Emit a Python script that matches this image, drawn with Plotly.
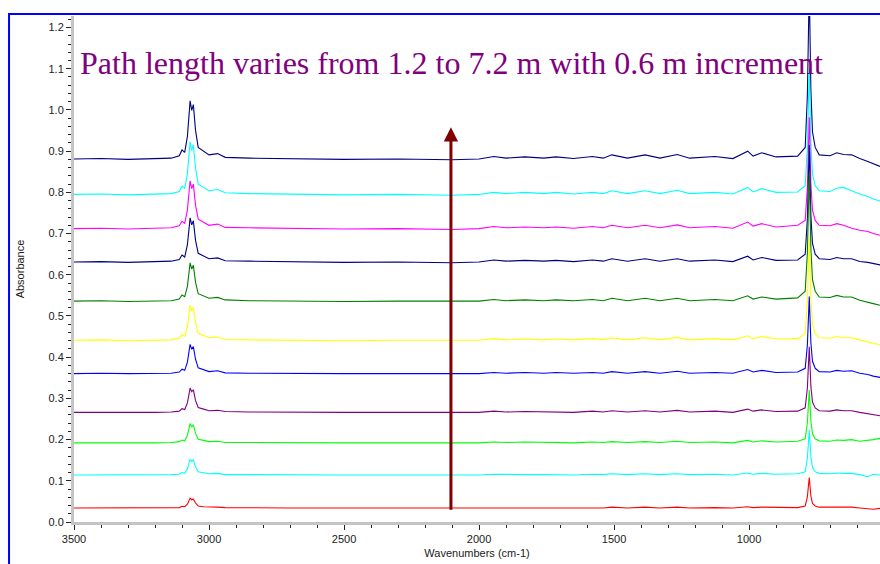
import plotly.graph_objects as go

# Wavenumber grid (cm-1), descending
wavenumbers = [
    3500, 3400, 3300, 3200, 3140, 3110, 3100, 3090, 3080, 3070,
    3064, 3058, 3050, 3040, 3020, 3000, 2968, 2940, 2850, 2700,
    2500, 2300, 2100, 2000, 1945, 1900, 1830, 1760, 1715, 1650,
    1580, 1540, 1508, 1450, 1385, 1330, 1266, 1220, 1126, 1060,
    1005, 985, 953, 900, 820, 792, 784, 777, 771, 765,
    755, 740, 700, 675, 650, 620, 590, 560, 540, 515,
]

# Absorbance spectra, one list per optical path length
abs_7_2 = [
    0.881, 0.882, 0.880, 0.882, 0.883, 0.889, 0.903, 0.897, 0.936, 1.022,
    0.999, 1.013, 0.951, 0.909, 0.899, 0.891, 0.894, 0.885, 0.883, 0.881,
    0.880, 0.881, 0.879, 0.881, 0.887, 0.883, 0.886, 0.883, 0.886, 0.882,
    0.887, 0.883, 0.891, 0.883, 0.891, 0.883, 0.892, 0.883, 0.887, 0.882,
    0.900, 0.888, 0.896, 0.886, 0.888, 0.909, 1.035, 1.301, 1.048, 0.947,
    0.909, 0.891, 0.889, 0.896, 0.892, 0.891, 0.882, 0.875, 0.869, 0.863,
]
abs_6_6 = [
    0.795, 0.796, 0.794, 0.796, 0.797, 0.802, 0.815, 0.810, 0.845, 0.923,
    0.902, 0.915, 0.859, 0.820, 0.811, 0.804, 0.807, 0.799, 0.797, 0.795,
    0.794, 0.795, 0.793, 0.795, 0.800, 0.797, 0.800, 0.797, 0.800, 0.796,
    0.800, 0.797, 0.804, 0.797, 0.804, 0.797, 0.805, 0.797, 0.800, 0.796,
    0.812, 0.801, 0.809, 0.800, 0.801, 0.816, 0.908, 1.100, 0.917, 0.844,
    0.816, 0.804, 0.802, 0.810, 0.812, 0.804, 0.796, 0.790, 0.784, 0.779,
]
abs_6_0 = [
    0.712, 0.713, 0.711, 0.713, 0.714, 0.719, 0.730, 0.725, 0.757, 0.828,
    0.809, 0.820, 0.769, 0.735, 0.727, 0.720, 0.723, 0.715, 0.714, 0.712,
    0.711, 0.712, 0.710, 0.712, 0.717, 0.714, 0.716, 0.714, 0.716, 0.713,
    0.717, 0.714, 0.720, 0.714, 0.720, 0.714, 0.721, 0.714, 0.717, 0.713,
    0.728, 0.718, 0.724, 0.716, 0.720, 0.732, 0.813, 0.982, 0.821, 0.756,
    0.732, 0.720, 0.719, 0.724, 0.720, 0.713, 0.708, 0.705, 0.700, 0.696,
]
abs_5_4 = [
    0.631, 0.632, 0.630, 0.632, 0.633, 0.637, 0.648, 0.643, 0.673, 0.738,
    0.721, 0.731, 0.684, 0.652, 0.645, 0.639, 0.641, 0.634, 0.633, 0.631,
    0.630, 0.631, 0.629, 0.631, 0.636, 0.633, 0.635, 0.633, 0.635, 0.632,
    0.636, 0.633, 0.639, 0.633, 0.639, 0.633, 0.639, 0.633, 0.636, 0.632,
    0.645, 0.636, 0.642, 0.635, 0.636, 0.650, 0.735, 0.915, 0.744, 0.676,
    0.650, 0.639, 0.637, 0.642, 0.639, 0.639, 0.632, 0.630, 0.627, 0.624,
]
abs_4_8 = [
    0.536, 0.537, 0.535, 0.537, 0.537, 0.541, 0.551, 0.547, 0.572, 0.629,
    0.614, 0.623, 0.582, 0.554, 0.548, 0.543, 0.545, 0.539, 0.537, 0.536,
    0.535, 0.536, 0.535, 0.536, 0.540, 0.537, 0.539, 0.537, 0.539, 0.537,
    0.540, 0.537, 0.543, 0.537, 0.543, 0.537, 0.543, 0.537, 0.540, 0.537,
    0.549, 0.541, 0.546, 0.541, 0.544, 0.560, 0.653, 0.848, 0.663, 0.588,
    0.560, 0.546, 0.545, 0.550, 0.546, 0.546, 0.538, 0.534, 0.530, 0.526,
]
abs_4_2 = [
    0.441, 0.442, 0.440, 0.442, 0.442, 0.446, 0.454, 0.451, 0.474, 0.526,
    0.512, 0.520, 0.483, 0.458, 0.452, 0.447, 0.449, 0.443, 0.442, 0.441,
    0.440, 0.441, 0.440, 0.441, 0.445, 0.442, 0.444, 0.442, 0.444, 0.442,
    0.445, 0.442, 0.447, 0.442, 0.447, 0.442, 0.448, 0.442, 0.445, 0.442,
    0.452, 0.445, 0.450, 0.444, 0.445, 0.457, 0.532, 0.690, 0.540, 0.480,
    0.457, 0.447, 0.446, 0.450, 0.447, 0.447, 0.442, 0.437, 0.434, 0.430,
]
abs_3_6 = [
    0.360, 0.361, 0.360, 0.361, 0.361, 0.364, 0.371, 0.368, 0.388, 0.431,
    0.419, 0.426, 0.395, 0.374, 0.369, 0.365, 0.367, 0.362, 0.361, 0.360,
    0.360, 0.360, 0.359, 0.360, 0.363, 0.361, 0.363, 0.361, 0.363, 0.361,
    0.363, 0.361, 0.365, 0.361, 0.365, 0.361, 0.366, 0.361, 0.363, 0.361,
    0.370, 0.364, 0.368, 0.363, 0.364, 0.373, 0.429, 0.547, 0.435, 0.390,
    0.373, 0.365, 0.364, 0.368, 0.366, 0.367, 0.361, 0.358, 0.354, 0.351,
]
abs_3_0 = [
    0.266, 0.266, 0.265, 0.266, 0.267, 0.269, 0.275, 0.273, 0.289, 0.325,
    0.316, 0.321, 0.295, 0.278, 0.274, 0.270, 0.271, 0.268, 0.267, 0.266,
    0.266, 0.266, 0.265, 0.266, 0.269, 0.267, 0.268, 0.267, 0.268, 0.266,
    0.269, 0.267, 0.270, 0.267, 0.270, 0.267, 0.271, 0.267, 0.269, 0.266,
    0.274, 0.269, 0.272, 0.268, 0.269, 0.277, 0.325, 0.425, 0.329, 0.291,
    0.277, 0.270, 0.269, 0.272, 0.270, 0.270, 0.266, 0.263, 0.261, 0.258,
]
abs_2_4 = [
    0.192, 0.192, 0.191, 0.192, 0.193, 0.195, 0.199, 0.197, 0.210, 0.239,
    0.231, 0.236, 0.215, 0.201, 0.198, 0.195, 0.196, 0.193, 0.193, 0.192,
    0.192, 0.192, 0.191, 0.192, 0.194, 0.193, 0.194, 0.193, 0.194, 0.192,
    0.194, 0.193, 0.195, 0.193, 0.195, 0.193, 0.196, 0.193, 0.194, 0.192,
    0.198, 0.194, 0.197, 0.194, 0.196, 0.202, 0.241, 0.320, 0.245, 0.214,
    0.202, 0.197, 0.196, 0.199, 0.198, 0.200, 0.196, 0.198, 0.200, 0.203,
]
abs_1_8 = [
    0.114, 0.114, 0.114, 0.114, 0.115, 0.116, 0.120, 0.118, 0.129, 0.153,
    0.147, 0.151, 0.134, 0.122, 0.119, 0.117, 0.118, 0.115, 0.115, 0.114,
    0.114, 0.114, 0.113, 0.114, 0.116, 0.115, 0.115, 0.115, 0.115, 0.114,
    0.116, 0.115, 0.117, 0.115, 0.117, 0.115, 0.117, 0.115, 0.116, 0.114,
    0.119, 0.116, 0.118, 0.116, 0.117, 0.122, 0.155, 0.223, 0.158, 0.132,
    0.122, 0.118, 0.117, 0.119, 0.118, 0.118, 0.115, 0.110, 0.116, 0.114,
]
abs_1_2 = [
    0.034, 0.034, 0.034, 0.034, 0.034, 0.035, 0.038, 0.037, 0.043, 0.058,
    0.054, 0.056, 0.046, 0.039, 0.037, 0.036, 0.036, 0.035, 0.034, 0.034,
    0.034, 0.034, 0.034, 0.034, 0.035, 0.034, 0.035, 0.034, 0.035, 0.034,
    0.035, 0.034, 0.036, 0.034, 0.036, 0.034, 0.036, 0.034, 0.035, 0.034,
    0.037, 0.035, 0.036, 0.035, 0.035, 0.039, 0.061, 0.108, 0.063, 0.045,
    0.039, 0.036, 0.036, 0.037, 0.036, 0.036, 0.034, 0.033, 0.031, 0.033,
]

path_labels = ["7.2 m", "6.6 m", "6.0 m", "5.4 m", "4.8 m", "4.2 m",
               "3.6 m", "3.0 m", "2.4 m", "1.8 m", "1.2 m"]
spectra = [abs_7_2, abs_6_6, abs_6_0, abs_5_4, abs_4_8, abs_4_2,
           abs_3_6, abs_3_0, abs_2_4, abs_1_8, abs_1_2]
line_colors = ["#000080", "#00ffff", "#ff00ff", "#000080", "#008000", "#ffff00",
               "#0000ff", "#800080", "#00ff00", "#00ffff", "#ff0000"]

x_ticks = [3500, 3000, 2500, 2000, 1500, 1000]
y_ticks = [0.0, 0.1, 0.2, 0.3, 0.4, 0.5, 0.6, 0.7, 0.8, 0.9, 1.0, 1.1, 1.2]

# Arrow marking increasing path length
arrow_x = 2104
arrow_y_from = 0.026
arrow_y_to = 0.958

fig = go.Figure()
for label, values, color in zip(path_labels, spectra, line_colors):
    fig.add_trace(go.Scatter(
        x=wavenumbers, y=values, mode="lines", name=label,
        line=dict(color=color, width=1.1), showlegend=False,
    ))

axis_font = dict(family="Liberation Sans, Arial, sans-serif", size=11, color="#1a1a1a")

fig.update_layout(
    width=880, height=564,
    margin=dict(l=74, r=0, t=16, b=42),
    paper_bgcolor="white", plot_bgcolor="white",
    template="none",
    font=axis_font,
    xaxis=dict(
        range=[3500, 515], autorange=False, automargin=False,
        tickvals=x_ticks, ticktext=[str(v) for v in x_ticks],
        ticks="outside", ticklen=5, tickwidth=1, tickcolor="#222",
        showline=True, linecolor="#c4c4c4", linewidth=3,
        showgrid=False, zeroline=False,
        minor=dict(dtick=100, ticks="outside", ticklen=3, tickcolor="#222", tickwidth=1, showgrid=False),
        tickfont=axis_font,
        title=dict(text="Wavenumbers (cm-1)", font=axis_font, standoff=6),
    ),
    yaxis=dict(
        range=[0, 1.228], autorange=False, automargin=False,
        tickvals=y_ticks, ticktext=[f"{v:.1f}" for v in y_ticks],
        ticks="outside", ticklen=5, tickwidth=1, tickcolor="#222",
        showline=True, linecolor="#c4c4c4", linewidth=3,
        showgrid=False, zeroline=False,
        minor=dict(dtick=0.02, ticks="outside", ticklen=3, tickcolor="#222", tickwidth=1, showgrid=False),
        tickfont=axis_font,
        title=dict(text="Absorbance", font=axis_font, standoff=22),
    ),
    shapes=[dict(
        type="rect", xref="paper", yref="paper",
        x0=-0.0806, x1=1.05, y0=-0.3, y1=1.004,
        line=dict(color="#0000ff", width=2), fillcolor="rgba(0,0,0,0)", layer="above",
    )],
    annotations=[
        dict(
            x=arrow_x, y=arrow_y_to, ax=arrow_x, ay=arrow_y_from,
            xref="x", yref="y", axref="x", ayref="y",
            showarrow=True, arrowhead=2, arrowsize=0.95, arrowwidth=3,
            arrowcolor="#800000", text="",
        ),
        dict(
            text="Path length varies from 1.2 to 7.2 m with 0.6 m increment",
            xref="paper", yref="paper", x=0.005, y=0.907,
            xanchor="left", yanchor="middle", showarrow=False,
            font=dict(family="Liberation Serif, Times New Roman, serif", size=32, color="#800080"),
        ),
    ],
)

fig.write_html("out.html")
